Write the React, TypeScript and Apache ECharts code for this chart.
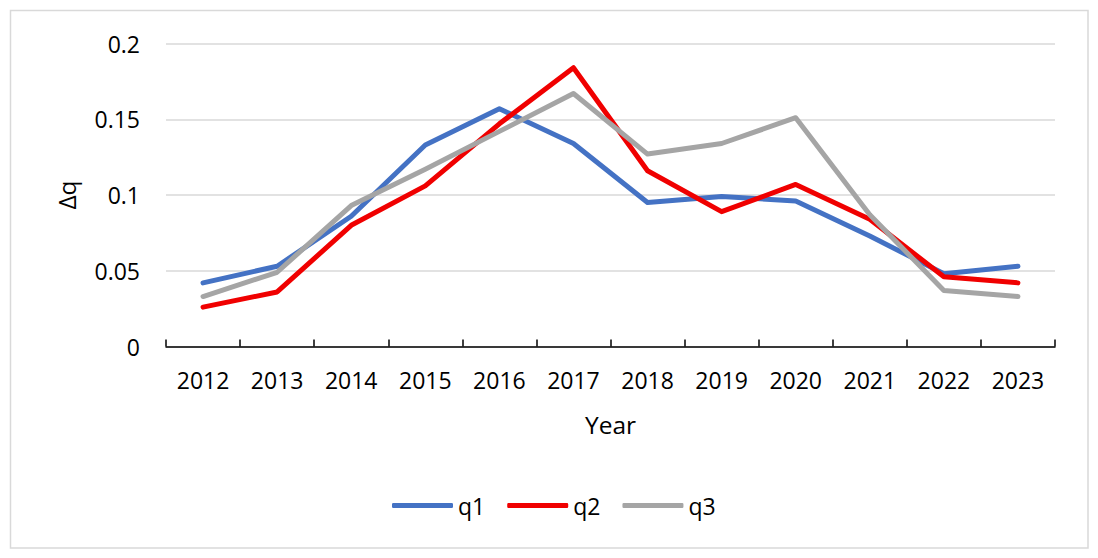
import React, { useEffect, useRef } from "react";
import * as echarts from "echarts";

const years = ["2012", "2013", "2014", "2015", "2016", "2017", "2018", "2019", "2020", "2021", "2022", "2023"];
const q1 = [0.042, 0.053, 0.086, 0.133, 0.157, 0.134, 0.095, 0.099, 0.096, 0.073, 0.048, 0.053];
const q2 = [0.026, 0.036, 0.080, 0.106, 0.147, 0.184, 0.116, 0.089, 0.107, 0.084, 0.046, 0.042];
const q3 = [0.033, 0.049, 0.093, 0.117, 0.142, 0.167, 0.127, 0.134, 0.151, 0.087, 0.037, 0.033];
const seriesNames = ["q1", "q2", "q3"];
const colors = ["#4472C4", "#F00000", "#A5A5A5"];

const FONT = '"Open Sans", sans-serif';

export default function App() {
  const ref = useRef<HTMLDivElement>(null);
  useEffect(() => {
    document.body.style.margin = "0";
    const chart = echarts.init(ref.current!, null, { renderer: "svg" });
    const data = [q1, q2, q3];
    chart.setOption({
      animation: false,
      backgroundColor: "#ffffff",
      textStyle: { fontFamily: FONT },
      graphic: [
        {
          type: "rect",
          shape: { x: 10.5, y: 10.5, width: 1077.5, height: 537.5 },
          style: { fill: "none", stroke: "#d9d9d9", lineWidth: 1.5 },
          silent: true,
        },
      ],
      grid: { left: 166, right: 43, top: 43.5, bottom: 211.5, containLabel: false },
      legend: {
        bottom: 41,
        left: 392,
        padding: 0,
        icon: "roundRect",
        itemWidth: 61,
        itemHeight: 5,
        itemGap: 22,
        data: seriesNames,
        textStyle: { fontFamily: FONT, fontSize: 23, color: "#000" },
      },
      xAxis: {
        type: "category",
        data: years,
        boundaryGap: true,
        name: "Year",
        nameLocation: "middle",
        nameGap: 65,
        nameTextStyle: { fontFamily: FONT, fontSize: 24.5, color: "#000" },
        axisLine: { lineStyle: { color: "#000", width: 1.5 } },
        axisTick: { show: true, inside: true, length: 7, lineStyle: { color: "#000", width: 1.5 } },
        axisLabel: { fontFamily: FONT, fontSize: 23, color: "#000", margin: 22, interval: 0 },
        splitLine: { show: false },
      },
      yAxis: {
        type: "value",
        min: 0,
        max: 0.2,
        interval: 0.05,
        name: "Δq",
        nameLocation: "middle",
        nameGap: 87,
        nameTextStyle: { fontFamily: FONT, fontSize: 24.5, color: "#000" },
        axisLine: { show: false },
        axisTick: { show: false },
        axisLabel: { fontFamily: FONT, fontSize: 23, color: "#000", margin: 26 },
        splitLine: { lineStyle: { color: "#d9d9d9", width: 1.5 } },
      },
      series: seriesNames.map((n, i) => ({
        name: n,
        type: "line",
        data: data[i],
        symbol: "none",
        color: colors[i],
        lineStyle: { color: colors[i], width: 5, cap: "round", join: "round" },
        itemStyle: { color: colors[i] },
      })),
    });
    return () => chart.dispose();
  }, []);
  return <div ref={ref} style={{ width: 1098, height: 558 }} />;
}
